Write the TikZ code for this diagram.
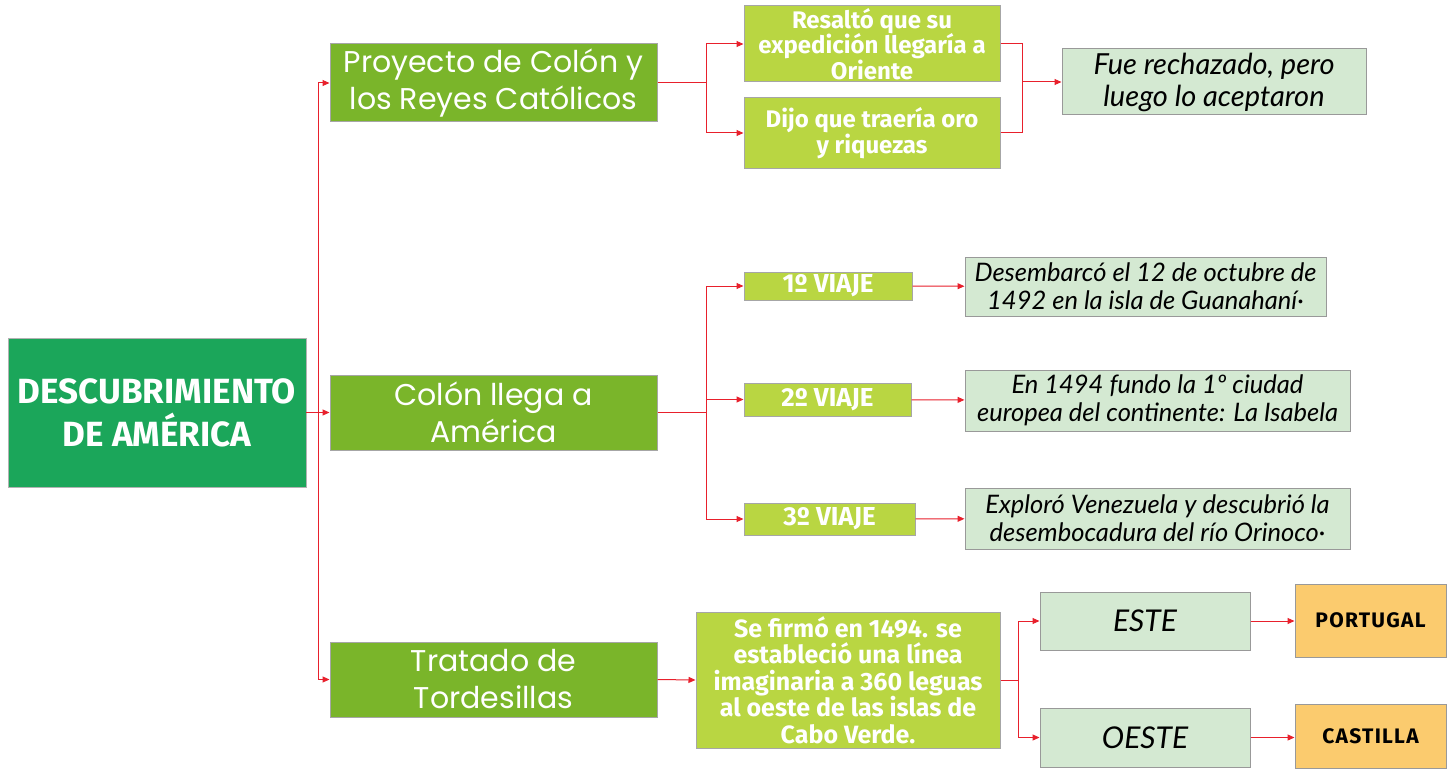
\documentclass[tikz,border=0pt]{standalone}
\usepackage{fontspec}
\usepackage{xcolor}
\usetikzlibrary{arrows.meta}
\setmainfont{Fira Sans}
\newfontfamily\rowfont{Poppins}
\newfontfamily\handfont{Lato}
\newfontfamily\capsfont[LetterSpace=6]{Fira Sans}

\definecolor{mainGreen}{RGB}{27,166,90}
\definecolor{oliveGreen}{RGB}{122,181,42}
\definecolor{limeGreen}{RGB}{185,214,66}
\definecolor{paleGreen}{RGB}{212,233,210}
\definecolor{paleOrange}{RGB}{251,203,110}
\definecolor{arrowRed}{RGB}{232,32,44}

\tikzset{
  mainbox/.style={draw=black!30, fill=mainGreen, text=white, align=center, inner sep=0pt,
    font=\fontsize{35}{43}\selectfont\bfseries},
  rowbox/.style={draw=black!35, line width=1pt, fill=oliveGreen, text=white, align=center, inner sep=0pt,
    font=\rowfont\fontsize{30}{37}\selectfont},
  limebox/.style={draw=black!35, line width=1pt, fill=limeGreen, text=white, align=center, inner sep=0pt,
    font=\fontsize{24}{25.5}\selectfont\bfseries},
  notebox/.style={draw=black!40, line width=1pt, fill=paleGreen, text=black, align=center, inner sep=0pt,
    font=\handfont\itshape\fontsize{25.5}{28}\selectfont},
  endbox/.style={draw=black!40, line width=1pt, fill=paleOrange, text=black, align=center, inner sep=0pt,
    font=\capsfont\fontsize{21}{24}\selectfont\bfseries},
  conn/.style={draw=arrowRed, line width=1pt},
  arr/.style={conn, -{Triangle[length=7pt,width=6pt]}}
}

\begin{document}
\begin{tikzpicture}[x=1pt,y=1pt,yscale=-1]
\path[use as bounding box, fill=white] (0,0) rectangle (1448,773);

%Main box
\node[mainbox, minimum width=298pt, minimum height=149pt] (desc) at (157,412.5) {DESCUBRIMIENTO\\DE AMÉRICA};

%Level 1
\node[rowbox, minimum width=327pt, minimum height=78pt] (proy) at (493.5,83) {Proyecto de Colón y\\los Reyes Católicos};
\node[rowbox, minimum width=327pt, minimum height=75pt] (colon) at (493.5,412.5) {Colón llega a\\América};
\node[rowbox, minimum width=327pt, minimum height=75pt] (trat) at (493.5,679.5) {Tratado de\\Tordesillas};

%Proyecto branch
\node[limebox, minimum width=256pt, minimum height=76pt] (resal) at (872,44) {Resaltó que su\\expedición llegaría a\\Oriente};
\node[limebox, minimum width=256pt, minimum height=70pt] (dijo) at (872,133) {Dijo que traería oro\\y riquezas};
\node[notebox, minimum width=304pt, minimum height=66pt, font=\handfont\itshape\fontsize{29}{32}\selectfont] (fue) at (1214,82) {Fue rechazado, pero\\luego lo aceptaron};

%Viajes
\node[limebox, minimum width=168pt, minimum height=28pt, font=\fontsize{26}{28}\selectfont\bfseries] (v1) at (828,286) {1º VIAJE};
\node[limebox, minimum width=167pt, minimum height=33pt, font=\fontsize{26}{28}\selectfont\bfseries] (v2) at (827.5,399.5) {2º VIAJE};
\node[limebox, minimum width=171pt, minimum height=32pt, font=\fontsize{26}{28}\selectfont\bfseries] (v3) at (829.5,519) {3º VIAJE};
\node[notebox, minimum width=361pt, minimum height=59pt] (d1) at (1145.5,286.5) {Desembarcó el 12 de octubre de\\1492 en la isla de Guanahaní·};
\node[notebox, minimum width=385pt, minimum height=61pt] (d2) at (1157.5,400.5) {En 1494 fundo la 1º ciudad\\europea del continente: La Isabela};
\node[notebox, minimum width=385pt, minimum height=61pt] (d3) at (1157.5,518.5) {Exploró Venezuela y descubrió la\\desembocadura del río Orinoco·};

%Tordesillas branch
\node[limebox, minimum width=304pt, minimum height=136pt, font=\fontsize{25}{26.5}\selectfont\bfseries] (firmo) at (848,680) {Se firmó en 1494. se\\estableció una línea\\imaginaria a 360 leguas\\al oeste de las islas de\\Cabo Verde.};
\node[notebox, minimum width=210pt, minimum height=58pt, font=\handfont\itshape\fontsize{30}{32}\selectfont] (este) at (1145,621) {ESTE};
\node[notebox, minimum width=210pt, minimum height=59pt, font=\handfont\itshape\fontsize{30}{32}\selectfont] (oeste) at (1145,737.5) {OESTE};
\node[endbox, minimum width=151pt, minimum height=73pt] (port) at (1370.5,620.5) {PORTUGAL};
\node[endbox, minimum width=151pt, minimum height=64pt] (cast) at (1370.5,736) {CASTILLA};

%Connectors
\coordinate (t1) at (318,412.5);
\draw[conn] (desc.east) -- (t1);
\draw[arr] (t1) |- (proy.west);
\draw[arr] (t1) -- (colon.west);
\draw[arr] (t1) |- (trat.west);

\coordinate (j1) at (706,83);
\draw[conn] (proy.east) -- (j1);
\draw[arr] (j1) |- (resal.west);
\draw[arr] (j1) |- (dijo.west);
\coordinate (j2) at (1022,82);
\draw[conn] (resal.east) -| (j2);
\draw[conn] (dijo.east) -| (j2);
\draw[arr] (j2) -- (fue.west);

\coordinate (j3) at (706,412.5);
\draw[conn] (colon.east) -- (j3);
\draw[arr] (j3) |- (v1.west);
\draw[arr] (j3) |- (v2.west);
\draw[arr] (j3) |- (v3.west);
\draw[arr] (v1) -- (d1);
\draw[arr] (v2) -- (d2);
\draw[arr] (v3) -- (d3);

\draw[arr] (trat.east) -- (firmo.west);
\coordinate (j4) at (1018,680);
\draw[conn] (firmo.east) -- (j4);
\draw[arr] (j4) |- (este.west);
\draw[arr] (j4) |- (oeste.west);
\draw[arr] (este.east) -- (port.west |- este.east);
\draw[arr] (oeste.east) -- (cast.west |- oeste.east);

\end{tikzpicture}
\end{document}
